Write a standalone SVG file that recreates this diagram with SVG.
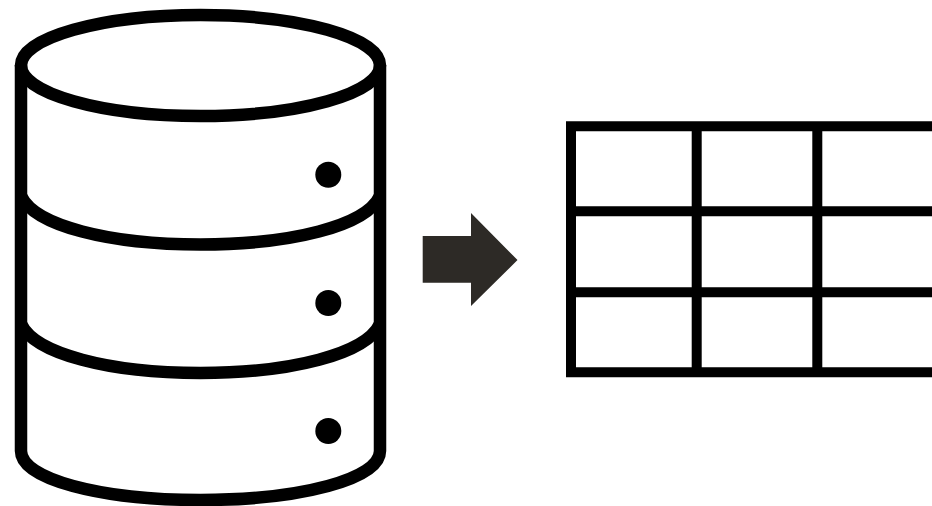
<svg xmlns="http://www.w3.org/2000/svg" width="932" height="506" viewBox="0 0 932 506">
<style>.l{fill:none;stroke:#000;stroke-width:12.500}.t{fill:none;stroke:#000;stroke-width:10}.d{fill:#000}</style>
<rect width="932" height="506" fill="#fff"/>
<g id="database">
<ellipse class="l" cx="200.500" cy="65.500" rx="179.500" ry="50.500"/>
<path class="l" d="M21 65V451C21 479 100 500 200.500 500S380 479 380 451V65"/>
<path class="l" d="M21 196C35 226 110 244.500 200.500 244.500S366 226 380 196"/>
<path class="l" d="M21 324C35 354 110 373 200.500 373S366 354 380 324"/>
<circle class="d" cx="328.300" cy="174.700" r="13"/>
<circle class="d" cx="328.300" cy="303" r="13"/>
<circle class="d" cx="328.300" cy="431" r="13"/>
</g>
<g id="arrow"><path fill="#2d2a26" d="M422.700 236H471V213L517.500 260L471 306V282.700H422.700Z"/></g>
<g id="table">
<path class="t" d="M932 126.300H571V372.300H932M696.700 126.300V372.300M817.300 126.300V372.300M571 211.300H932M571 292.300H932"/>
</g>
</svg>
